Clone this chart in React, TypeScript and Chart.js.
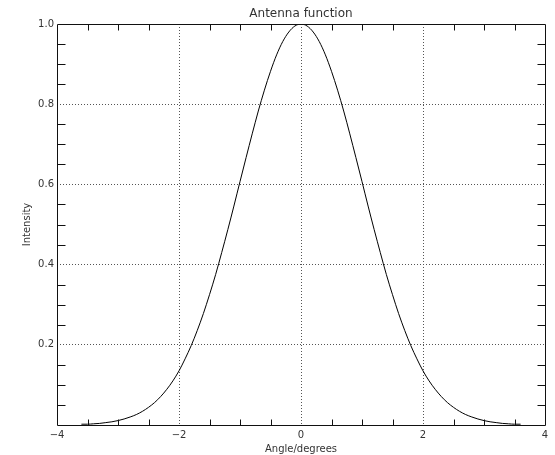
import React, { useEffect, useRef } from 'react';
import { Chart, registerables } from 'chart.js';

Chart.register(...registerables);

const TITLE = 'Antenna function';
const X_LABEL = 'Angle/degrees';
const Y_LABEL = 'Intensity';

const angles = [
  -3.6, -3.5, -3.4, -3.3, -3.2, -3.1, -3.0, -2.9, -2.8, -2.7, -2.6, -2.5, -2.4, -2.3, -2.2, -2.1,
  -2.0, -1.9, -1.8, -1.7, -1.6, -1.5, -1.4, -1.3, -1.2, -1.1, -1.0, -0.9, -0.8, -0.7, -0.6, -0.5,
  -0.4, -0.3, -0.2, -0.1, 0.0, 0.1, 0.2, 0.3, 0.4, 0.5, 0.6, 0.7, 0.8, 0.9, 1.0, 1.1, 1.2, 1.3,
  1.4, 1.5, 1.6, 1.7, 1.8, 1.9, 2.0, 2.1, 2.2, 2.3, 2.4, 2.5, 2.6, 2.7, 2.8, 2.9, 3.0, 3.1, 3.2,
  3.3, 3.4, 3.5, 3.6,
];
const intensity = [
  0.002, 0.002, 0.003, 0.004, 0.006, 0.008, 0.011, 0.015, 0.020, 0.026, 0.034, 0.044, 0.056, 0.071, 0.089, 0.110,
  0.135, 0.165, 0.198, 0.236, 0.278, 0.325, 0.375, 0.430, 0.487, 0.546, 0.607, 0.667, 0.726, 0.783, 0.835, 0.882,
  0.923, 0.956, 0.980, 0.995, 1.000, 0.995, 0.980, 0.956, 0.923, 0.882, 0.835, 0.783, 0.726, 0.667, 0.607, 0.546,
  0.487, 0.430, 0.375, 0.325, 0.278, 0.236, 0.198, 0.165, 0.135, 0.110, 0.089, 0.071, 0.056, 0.044, 0.034, 0.026,
  0.020, 0.015, 0.011, 0.008, 0.006, 0.004, 0.003, 0.002, 0.002,
];

const xTicks = [-4, -2, 0, 2, 4];
const yTicks = [0, 0.2, 0.4, 0.6, 0.8, 1.0];
const xMinorTicks = [-3.5, -3, -2.5, -1.5, -1, -0.5, 0.5, 1, 1.5, 2.5, 3, 3.5];
const yMinorTicks = [0.05, 0.1, 0.15, 0.25, 0.3, 0.35, 0.45, 0.5, 0.55, 0.65, 0.7, 0.75, 0.85, 0.9, 0.95];

const FONT = 'DejaVu Sans';
const TEXT = '#333';

const framePlugin = {
  id: 'idlFrame',
  afterDraw(chart: any) {
    const { ctx, chartArea } = chart;
    const { left, right, top, bottom } = chartArea;
    const xs = chart.scales.x;
    const ys = chart.scales.y;
    ctx.save();
    ctx.strokeStyle = '#111';
    ctx.lineWidth = 1;
    ctx.beginPath();
    const L = Math.round(left) + 0.5;
    const R = Math.round(right) + 0.5;
    const T = Math.round(top) + 0.5;
    const B = Math.round(bottom) + 0.5;
    ctx.rect(L, T, R - L, B - T);
    xMinorTicks.forEach((v) => {
      const px = Math.round(xs.getPixelForValue(v)) + 0.5;
      ctx.moveTo(px, B);
      ctx.lineTo(px, B - 6);
      ctx.moveTo(px, T);
      ctx.lineTo(px, T + 6);
    });
    yMinorTicks.forEach((v) => {
      const py = Math.round(ys.getPixelForValue(v)) + 0.5;
      ctx.moveTo(L, py);
      ctx.lineTo(L + 8, py);
      ctx.moveTo(R, py);
      ctx.lineTo(R - 8, py);
    });
    ctx.stroke();
    ctx.fillStyle = TEXT;
    ctx.font = `12px "${FONT}"`;
    ctx.textAlign = 'center';
    ctx.textBaseline = 'middle';
    ctx.fillText(TITLE, (left + right) / 2, 14);
    ctx.restore();
  },
};

export default function App() {
  const ref = useRef<HTMLCanvasElement | null>(null);
  useEffect(() => {
    if (!ref.current) return;
    const gridColor = (c: any) => {
      const v = c.tick ? c.tick.value : 0;
      return c.scale.axis === 'x'
        ? (v === -4 || v === 4 ? 'rgba(0,0,0,0)' : '#555')
        : (v === 0 || v === 1 ? 'rgba(0,0,0,0)' : '#555');
    };
    const chart = new Chart(ref.current, {
      type: 'line',
      data: {
        labels: angles,
        datasets: [
          {
            data: angles.map((a, i) => ({ x: a, y: intensity[i] })),
            borderColor: '#000',
            borderWidth: 1,
            pointRadius: 0,
            fill: false,
            cubicInterpolationMode: 'monotone',
          },
        ],
      },
      options: {
        responsive: false,
        animation: false,
        layout: { padding: { top: 24, right: 10, left: 0, bottom: 0 } },
        plugins: { legend: { display: false }, title: { display: false }, tooltip: { enabled: false } },
        scales: {
          x: {
            type: 'linear',
            min: -4,
            max: 4,
            afterBuildTicks: (s: any) => { s.ticks = xTicks.map((v) => ({ value: v })); },
            afterFit: (s: any) => { s.height = 30; },
            border: { display: false, dash: [1, 2] },
            grid: { color: gridColor, drawTicks: false, lineWidth: 1 },
            ticks: {
              autoSkip: false,
              maxRotation: 0,
              padding: 4,
              color: TEXT,
              font: { family: FONT, size: 10 },
              callback: (v: any) => (v < 0 ? '\u2212' + Math.abs(v) : String(v)),
            },
            title: { display: true, text: X_LABEL, color: TEXT, font: { family: FONT, size: 10 }, padding: { top: 0, bottom: 0 } },
          },
          y: {
            type: 'linear',
            min: 0,
            max: 1,
            afterBuildTicks: (s: any) => { s.ticks = yTicks.map((v) => ({ value: v })); },
            afterFit: (s: any) => { s.width = 57; },
            border: { display: false, dash: [1, 2] },
            grid: { color: gridColor, drawTicks: false, lineWidth: 1 },
            ticks: {
              autoSkip: false,
              padding: 3,
              color: TEXT,
              font: { family: FONT, size: 10 },
              callback: (v: any) => (v === 0 ? '' : Number(v).toFixed(1)),
            },
            title: { display: true, text: Y_LABEL, color: TEXT, font: { family: FONT, size: 10 }, padding: { top: 21, bottom: 0 } },
          },
        },
      },
      plugins: [framePlugin],
    } as any);
    return () => chart.destroy();
  }, []);
  return (
    <div style={{ position: 'absolute', left: 0, top: 0, width: 555, height: 455, background: '#fff' }}>
      <canvas ref={ref} width={555} height={455} />
    </div>
  );
}
